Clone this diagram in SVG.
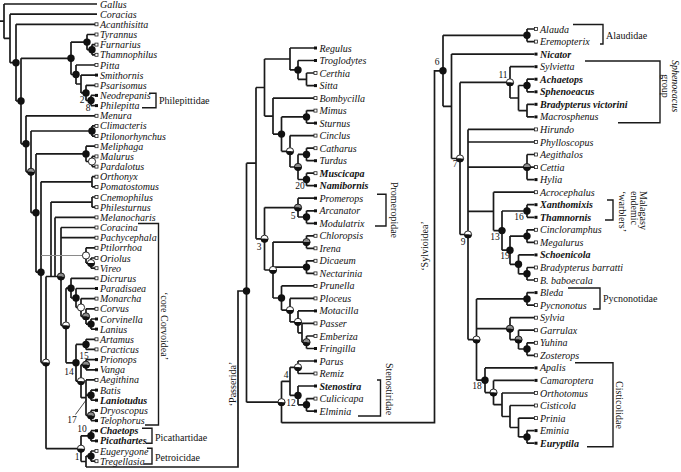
<svg xmlns="http://www.w3.org/2000/svg" width="681" height="472" viewBox="0 0 681 472">
<style>
.t{font-family:"Liberation Serif",serif;font-size:10px;font-style:italic;fill:#111}
.b{font-weight:bold}
.f{font-family:"Liberation Serif",serif;font-size:10px;fill:#111}
.n{font-family:"Liberation Serif",serif;font-size:9.5px;fill:#111}
.so{fill:#fff;stroke:#222;stroke-width:0.8}
.sf{fill:#111}
.e{fill:none;stroke:#1a1a1a;stroke-width:1.7}
.g{fill:none;stroke:#8a8a8a;stroke-width:1}
.k{fill:none;stroke:#1a1a1a;stroke-width:1.4}
</style>
<defs>
<g id="mB"><circle r="3.7" fill="#111"/></g>
<g id="mW"><circle r="3.6" fill="#fff" stroke="#111" stroke-width="0.9"/></g>
<g id="mH"><path d="M-3.7,0A3.7,3.7 0 0 1 3.7,0Z" fill="#fff"/><path d="M-3.7,0A3.7,3.7 0 0 0 3.7,0Z" fill="#111"/><circle r="3.6" fill="none" stroke="#111" stroke-width="0.9"/></g>
<g id="mG"><path d="M-3.7,0A3.7,3.7 0 0 1 3.7,0Z" fill="#8c8c8c"/><path d="M-3.7,0A3.7,3.7 0 0 0 3.7,0Z" fill="#111"/><circle r="3.6" fill="none" stroke="#111" stroke-width="0.9"/></g>
</defs>
<rect width="681" height="472" fill="#fff"/>
<g id="connectors">
<path class="e" d="M0,21.2H4 M4,4V38.4 M4,4H97 M4,38.4H10 M10,14.2V62.7 M10,14.2H97 M10,62.7H16 M16,24.3V101 M16,24.3H95 M16,101H21 M21,58.3V143.8 M21,58.3H71 M21,143.8H26 M71,42.1V74.5 M71,42.1H87 M71,74.5H76 M87,34.5V49.7 M87,34.5H95 M87,49.7H92 M92,44.6V54.8 M92,44.6H95 M92,54.8H95 M76,65V84 M76,65H95 M76,84H81 M81,75.1V92.9 M81,75.1H95 M81,92.9H86 M86,85.3V100.5 M86,85.3H95 M86,100.5H91 M91,95.4V105.6 M91,95.4H95 M91,105.6H95 M26,115.8V171.8 M26,115.8H95 M26,171.8H31 M31,131V212.7 M31,131H92 M31,212.7H36 M92,125.9V136.1 M92,125.9H95 M92,136.1H95 M36,153.9V272.2 M36,153.9H86 M36,272.2H41 M86,146.2V161.5 M86,146.2H95 M86,161.5H92 M92,156.4V166.6 M92,156.4H95 M92,166.6H95 M41,181.8V362.6 M41,181.8H92 M41,362.6H46 M92,176.7V186.9 M92,176.7H95 M92,186.9H95 M46,276.5V448.7 M46,276.5H61 M46,448.7H81 M51,202.1V276.5 M51,202.1H92 M92,197V207.2 M92,197H95 M92,207.2H95 M55,217.4V276.5 M55,217.4H95 M61,227.5V325.5 M61,227.5H95 M61,237.7H95 M61,325.5H66 M86,247.8V263.1 M86,247.8H95 M86,263.1H91 M91,258V268.2 M91,258H95 M91,268.2H95 M66,288.2V362.8 M66,288.2H71 M66,362.8H76 M71,278.3V298 M71,278.3H95 M71,298H76 M76,288.5V307.5 M76,288.5H95 M76,307.5H81 M81,298.6V316.4 M81,298.6H95 M81,316.4H86 M86,308.8V324.1 M86,308.8H95 M86,324.1H91 M91,319V329.1 M91,319H95 M91,329.1H95 M76,344.4V381.2 M76,344.4H86 M76,381.2H81 M86,339.3V349.4 M86,339.3H95 M86,349.4H95 M81,364.7V397.7 M81,364.7H86 M81,397.7H86 M86,359.6V369.8 M86,359.6H95 M86,369.8H95 M86,379.9V415.5 M86,379.9H95 M86,395.2H91 M86,415.5H91 M91,390.1V400.2 M91,390.1H95 M91,400.2H95 M91,410.4V420.6 M91,410.4H95 M91,420.6H95 M81,435.8V461.5 M81,435.8H91 M81,461.5H86 M91,430.7V440.9 M91,430.7H95 M91,440.9H95 M86,456.1V467 M86,456.1H91 M91,451V461.2 M91,451H95 M91,461.2H95 M86,467H238V291H246.5"/>
<path class="g" d="M41,255.5H86"/>
<path class="e" d="M246.5,163.2V402.2 M246.5,163.2H256 M246.5,402.2H281.5 M256,87.5V238.8 M256,87.5H264.5 M256,238.8H264.5 M264.5,59V116.1 M264.5,59H290 M264.5,116.1H273 M290,48V69.9 M290,48H314 M290,69.9H298 M298,60.5V79.3 M298,60.5H314 M298,79.3H306.5 M306.5,73V85.6 M306.5,73H314 M306.5,85.6H314 M273,98.1V134.1 M273,98.1H314 M273,134.1H281.5 M281.5,116.9V151.3 M281.5,116.9H306.5 M281.5,151.3H290 M306.5,110.6V123.1 M306.5,110.6H314 M306.5,123.1H314 M290,135.6V167 M290,135.6H314 M290,167H298 M298,154.4V179.5 M298,154.4H306.5 M298,179.5H306.5 M306.5,148.2V160.7 M306.5,148.2H314 M306.5,160.7H314 M306.5,173.2V185.7 M306.5,173.2H314 M306.5,185.7H314 M264.5,207.6V270 M264.5,207.6H298 M264.5,270H273 M298,198.2V217 M298,198.2H314 M298,217H306.5 M306.5,210.8V223.3 M306.5,210.8H314 M306.5,223.3H314 M273,242.1V298 M273,242.1H306.5 M273,267.1H306.5 M273,298H281.5 M306.5,235.8V248.3 M306.5,235.8H314 M306.5,248.3H314 M306.5,260.8V273.4 M306.5,260.8H314 M306.5,273.4H314 M281.5,285.9V310.1 M281.5,285.9H314 M281.5,310.1H290 M290,298.4V321.9 M290,298.4H314 M290,321.9H298 M298,310.9V332.8 M298,310.9H314 M298,332.8H302 M302,323.4V342.2 M302,323.4H314 M302,342.2H306.5 M306.5,336V348.5 M306.5,336H314 M306.5,348.5H314 M281.5,381.3V422.7 M281.5,381.3H290 M290,367.3V395.4 M290,367.3H298 M290,395.4H298 M298,361V373.5 M298,361H314 M298,373.5H314 M298,386V404.8 M298,386H314 M298,404.8H306.5 M306.5,398.6V411.1 M306.5,398.6H314 M306.5,411.1H314 M281.5,422.7H434.5V70.8H443"/>
<path class="e" d="M443,35.3V106.3 M443,35.3H527 M443,106.3H451.5 M527,29V41.6 M527,29H534.5 M527,41.6H534.5 M451.5,54.1V158.5 M451.5,54.1H534.5 M451.5,158.5H460 M460,82.4V234.5 M460,82.4H510 M460,234.5H468 M510,66.7V98 M510,66.7H534.5 M510,98H518.5 M518.5,85.5V110.6 M518.5,85.5H527 M518.5,110.6H527 M527,79.2V91.8 M527,79.2H534.5 M527,91.8H534.5 M527,104.3V116.9 M527,104.3H534.5 M527,116.9H534.5 M468,129.4V339.6 M468,129.4H534.5 M468,142H534.5 M468,167.1H527 M468,211.4H493.5 M468,339.6H476.5 M527,154.5V179.6 M527,154.5H534.5 M527,167.1H534.5 M527,179.6H534.5 M493.5,192.2V230.6 M493.5,192.2H534.5 M493.5,230.6H502 M502,211V250.2 M502,211H527 M502,250.2H510 M527,204.7V217.3 M527,204.7H534.5 M527,217.3H534.5 M510,236.1V264.3 M510,236.1H527 M510,264.3H518.5 M527,229.8V242.4 M527,229.8H534.5 M527,242.4H534.5 M518.5,254.9V273.8 M518.5,254.9H534.5 M518.5,273.8H527 M527,267.5V280 M527,267.5H534.5 M527,280H534.5 M476.5,298.9V380.2 M476.5,298.9H527 M476.5,328.7H510 M476.5,380.2H485 M527,292.6V305.1 M527,292.6H534.5 M527,305.1H534.5 M510,317.7V339.6 M510,317.7H534.5 M510,339.6H518.5 M518.5,330.2V349 M518.5,330.2H534.5 M518.5,349H527 M527,342.8V355.3 M527,342.8H534.5 M527,355.3H534.5 M485,367.9V392.6 M485,367.9H534.5 M485,392.6H493.5 M493.5,380.4V404.7 M493.5,380.4H534.5 M493.5,404.7H502 M502,393V416.5 M502,393H534.5 M502,416.5H510 M510,405.5V427.5 M510,405.5H534.5 M510,427.5H518.5 M518.5,418.1V436.9 M518.5,418.1H534.5 M518.5,436.9H527 M527,430.6V443.2 M527,430.6H534.5 M527,443.2H534.5"/>
<path class="k" d="M149,93.3H156V107.7H142 M138,223.5H158.5V425H145 M142,428.3H152V443.3H146 M147,448.3H152V464H144 M377,194.3H386V226H375 M377,380H380.5V416H358 M573,24.5H603V44H600 M585,61H660V122.7H618 M607,200H613V220H605 M568,288H600V309H593 M575,362.7H613V446.7H587"/>
<path d="M75.5,414.5L86.5,399.5" fill="none" stroke="#1a1a1a" stroke-width="0.8"/>
</g>
<g id="markers">
<use href="#mB" x="16" y="62.7"/><use href="#mB" x="21" y="101"/><use href="#mB" x="71" y="58.3"/><use href="#mB" x="87" y="42.1"/><use href="#mB" x="92" y="49.7"/><use href="#mB" x="76" y="74.5"/><use href="#mB" x="86" y="92.9"/><use href="#mB" x="91" y="100.5"/><use href="#mB" x="26" y="143.8"/><use href="#mB" x="92" y="131"/><use href="#mB" x="86" y="153.9"/><use href="#mB" x="36" y="212.7"/><use href="#mB" x="41" y="272.2"/><use href="#mB" x="71" y="288.2"/><use href="#mB" x="76" y="298"/><use href="#mB" x="91" y="324.1"/><use href="#mB" x="76" y="362.8"/><use href="#mB" x="86" y="344.4"/><use href="#mB" x="91" y="395.2"/><use href="#mB" x="91" y="435.8"/><use href="#mB" x="91" y="456.1"/>
<use href="#mG" x="31" y="171.8"/><use href="#mG" x="61" y="276.5"/><use href="#mG" x="86" y="316.4"/><use href="#mG" x="86" y="364.7"/><use href="#mG" x="91" y="415.5"/>
<use href="#mW" x="92" y="161.5"/><use href="#mW" x="86" y="255.5"/><use href="#mW" x="81" y="307.5"/>
<use href="#mH" x="46" y="362.6"/><use href="#mH" x="91" y="263.1"/><use href="#mH" x="66" y="325.5"/><use href="#mH" x="81" y="381.2"/><use href="#mH" x="81" y="448.7"/>
<use href="#mB" x="246.5" y="291"/><use href="#mB" x="298" y="69.9"/><use href="#mB" x="306.5" y="116.9"/><use href="#mB" x="281.5" y="134.1"/><use href="#mB" x="306.5" y="154.4"/><use href="#mB" x="306.5" y="179.5"/><use href="#mB" x="306.5" y="217"/><use href="#mB" x="306.5" y="267.1"/><use href="#mB" x="281.5" y="298"/><use href="#mB" x="298" y="395.4"/><use href="#mB" x="306.5" y="404.8"/>
<use href="#mG" x="298" y="167"/><use href="#mG" x="298" y="207.6"/><use href="#mG" x="306.5" y="242.1"/><use href="#mG" x="306.5" y="342.2"/>
<use href="#mH" x="290" y="151.3"/><use href="#mH" x="264.5" y="238.8"/><use href="#mH" x="273" y="270"/><use href="#mH" x="290" y="310.1"/><use href="#mH" x="298" y="321.9"/><use href="#mH" x="281.5" y="402.2"/><use href="#mH" x="298" y="367.3"/>
<use href="#mB" x="443" y="70.8"/><use href="#mB" x="527" y="35.3"/><use href="#mB" x="527" y="85.5"/><use href="#mB" x="502" y="230.6"/><use href="#mB" x="527" y="211"/><use href="#mB" x="510" y="250.2"/><use href="#mB" x="527" y="236.1"/><use href="#mB" x="518.5" y="264.3"/><use href="#mB" x="527" y="273.8"/><use href="#mB" x="527" y="298.9"/><use href="#mB" x="527" y="349"/><use href="#mB" x="485" y="380.2"/><use href="#mB" x="527" y="436.9"/>
<use href="#mG" x="527" y="167.1"/><use href="#mG" x="510" y="328.7"/><use href="#mG" x="518.5" y="339.6"/>
<use href="#mH" x="460" y="158.5"/><use href="#mH" x="510" y="82.4"/><use href="#mH" x="468" y="234.5"/><use href="#mH" x="476.5" y="339.6"/><use href="#mH" x="493.5" y="392.6"/>
</g>
<g id="node-labels" class="n">
<text x="82" y="102.5" text-anchor="middle">2</text><text x="88" y="110.5" text-anchor="middle">8</text><text x="69" y="374.5" text-anchor="middle">14</text><text x="84" y="358.5" text-anchor="middle">15</text><text x="72" y="422.5" text-anchor="middle">17</text><text x="82" y="431.5" text-anchor="middle">10</text><text x="77" y="459.5" text-anchor="middle">1</text>
<text x="259" y="249.5" text-anchor="middle">3</text><text x="293" y="218.5" text-anchor="middle">5</text><text x="300" y="189" text-anchor="middle">20</text><text x="286" y="378" text-anchor="middle">4</text><text x="291" y="406" text-anchor="middle">12</text>
<text x="437" y="65" text-anchor="middle">6</text><text x="503" y="77.5" text-anchor="middle">11</text><text x="455" y="167" text-anchor="middle">7</text><text x="463" y="244.5" text-anchor="middle">9</text><text x="519" y="220" text-anchor="middle">16</text><text x="495" y="239.5" text-anchor="middle">13</text><text x="505" y="258.5" text-anchor="middle">19</text><text x="477" y="389" text-anchor="middle">18</text>
</g>
<g id="group-labels" class="f">
<text x="159" y="104">Philepittidae</text>
<text x="155" y="441">Picathartidae</text>
<text x="155" y="461">Petroicidae</text>
<text transform="translate(161,326) rotate(90)" text-anchor="middle">‘core Corvoidea’</text>
<text transform="translate(236,384) rotate(-90)" text-anchor="middle">‘Passerida’</text>
<text transform="translate(391,210) rotate(90)" text-anchor="middle">Promeropidae</text>
<text transform="translate(386,389) rotate(90)" text-anchor="middle">Stenostiridae</text>
<text transform="translate(428,246) rotate(-90)" text-anchor="middle">‘Sylvioidea’</text>
<text x="606" y="38.5">Alaudidae</text>
<text transform="translate(672,86) rotate(90)" text-anchor="middle" font-style="italic">Sphenoeacus</text>
<text transform="translate(662,86) rotate(90)" text-anchor="middle">group</text>
<text transform="translate(640,191) rotate(90)">Malagasy</text>
<text transform="translate(631,191) rotate(90)">endemic</text>
<text transform="translate(619,191) rotate(90)">‘warblers’</text>
<text x="603" y="301.5">Pycnonotidae</text>
<text transform="translate(616,405) rotate(90)" text-anchor="middle">Cisticolidae</text>
</g>
<g id="taxa-left" class="t">
<g id="Gallus"><text x="100" y="7.6">Gallus</text></g>
<g id="Coracias"><text x="100" y="17.7">Coracias</text></g>
<g id="Acanthisitta"><rect class="so" x="95" y="22.8" width="3" height="3"/><text x="100" y="27.8">Acanthisitta</text></g>
<g id="Tyrannus"><rect class="so" x="95" y="33" width="3" height="3"/><text x="100" y="38">Tyrannus</text></g>
<g id="Furnarius"><rect class="so" x="95" y="43.1" width="3" height="3"/><text x="100" y="48.1">Furnarius</text></g>
<g id="Thamnophilus"><rect class="so" x="95" y="53.3" width="3" height="3"/><text x="100" y="58.3">Thamnophilus</text></g>
<g id="Pitta"><rect class="so" x="95" y="63.5" width="3" height="3"/><text x="100" y="68.5">Pitta</text></g>
<g id="Smithornis"><rect class="sf" x="95" y="73.6" width="3" height="3"/><text x="100" y="78.6">Smithornis</text></g>
<g id="Psarisomus"><rect class="so" x="95" y="83.8" width="3" height="3"/><text x="100" y="88.8">Psarisomus</text></g>
<g id="Neodrepanis"><rect class="sf" x="95" y="93.9" width="3" height="3"/><text x="100" y="98.9">Neodrepanis</text></g>
<g id="Philepitta"><rect class="sf" x="95" y="104.1" width="3" height="3"/><text x="100" y="109.1">Philepitta</text></g>
<g id="Menura"><rect class="so" x="95" y="114.3" width="3" height="3"/><text x="100" y="119.3">Menura</text></g>
<g id="Climacteris"><rect class="so" x="95" y="124.4" width="3" height="3"/><text x="100" y="129.4">Climacteris</text></g>
<g id="Ptilonorhynchus"><rect class="so" x="95" y="134.6" width="3" height="3"/><text x="100" y="139.6">Ptilonorhynchus</text></g>
<g id="Meliphaga"><rect class="so" x="95" y="144.7" width="3" height="3"/><text x="100" y="149.7">Meliphaga</text></g>
<g id="Malurus"><rect class="so" x="95" y="154.9" width="3" height="3"/><text x="100" y="159.9">Malurus</text></g>
<g id="Pardalotus"><rect class="so" x="95" y="165.1" width="3" height="3"/><text x="100" y="170.1">Pardalotus</text></g>
<g id="Orthonyx"><rect class="so" x="95" y="175.2" width="3" height="3"/><text x="100" y="180.2">Orthonyx</text></g>
<g id="Pomatostomus"><rect class="so" x="95" y="185.4" width="3" height="3"/><text x="100" y="190.4">Pomatostomus</text></g>
<g id="Cnemophilus"><rect class="so" x="95" y="195.5" width="3" height="3"/><text x="100" y="200.5">Cnemophilus</text></g>
<g id="Philesturnus"><rect class="so" x="95" y="205.7" width="3" height="3"/><text x="100" y="210.7">Philesturnus</text></g>
<g id="Melanocharis"><rect class="so" x="95" y="215.9" width="3" height="3"/><text x="100" y="220.9">Melanocharis</text></g>
<g id="Coracina"><rect class="so" x="95" y="226" width="3" height="3"/><text x="100" y="231">Coracina</text></g>
<g id="Pachycephala"><rect class="so" x="95" y="236.2" width="3" height="3"/><text x="100" y="241.2">Pachycephala</text></g>
<g id="Ptilorrhoa"><rect class="so" x="95" y="246.3" width="3" height="3"/><text x="100" y="251.3">Ptilorrhoa</text></g>
<g id="Oriolus"><rect class="so" x="95" y="256.5" width="3" height="3"/><text x="100" y="261.5">Oriolus</text></g>
<g id="Vireo"><rect class="so" x="95" y="266.7" width="3" height="3"/><text x="100" y="271.7">Vireo</text></g>
<g id="Dicrurus"><rect class="so" x="95" y="276.8" width="3" height="3"/><text x="100" y="281.8">Dicrurus</text></g>
<g id="Paradisaea"><rect class="sf" x="95" y="287" width="3" height="3"/><text x="100" y="292">Paradisaea</text></g>
<g id="Monarcha"><rect class="so" x="95" y="297.1" width="3" height="3"/><text x="100" y="302.1">Monarcha</text></g>
<g id="Corvus"><rect class="so" x="95" y="307.3" width="3" height="3"/><text x="100" y="312.3">Corvus</text></g>
<g id="Corvinella"><rect class="sf" x="95" y="317.5" width="3" height="3"/><text x="100" y="322.5">Corvinella</text></g>
<g id="Lanius"><rect class="sf" x="95" y="327.6" width="3" height="3"/><text x="100" y="332.6">Lanius</text></g>
<g id="Artamus"><rect class="so" x="95" y="337.8" width="3" height="3"/><text x="100" y="342.8">Artamus</text></g>
<g id="Cracticus"><rect class="so" x="95" y="347.9" width="3" height="3"/><text x="100" y="352.9">Cracticus</text></g>
<g id="Prionops"><rect class="sf" x="95" y="358.1" width="3" height="3"/><text x="100" y="363.1">Prionops</text></g>
<g id="Vanga"><rect class="sf" x="95" y="368.3" width="3" height="3"/><text x="100" y="373.3">Vanga</text></g>
<g id="Aegithina"><rect class="so" x="95" y="378.4" width="3" height="3"/><text x="100" y="383.4">Aegithina</text></g>
<g id="Batis"><rect class="sf" x="95" y="388.6" width="3" height="3"/><text x="100" y="393.6">Batis</text></g>
<g id="Laniotudus"><rect class="sf" x="95" y="398.7" width="3" height="3"/><text class="b" x="100" y="403.7">Laniotudus</text></g>
<g id="Dryoscopus"><rect class="sf" x="95" y="408.9" width="3" height="3"/><text x="100" y="413.9">Dryoscopus</text></g>
<g id="Telophorus"><rect class="sf" x="95" y="419.1" width="3" height="3"/><text x="100" y="424.1">Telophorus</text></g>
<g id="Chaetops"><rect class="sf" x="95" y="429.2" width="3" height="3"/><text class="b" x="100" y="434.2">Chaetops</text></g>
<g id="Picathartes"><rect class="sf" x="95" y="439.4" width="3" height="3"/><text class="b" x="100" y="444.4">Picathartes</text></g>
<g id="Eugerygone"><rect class="so" x="95" y="449.5" width="3" height="3"/><text x="100" y="454.5">Eugerygone</text></g>
<g id="Tregellasia"><rect class="so" x="95" y="459.7" width="3" height="3"/><text x="100" y="464.7">Tregellasia</text></g>
</g>
<g id="taxa-middle" class="t">
<g id="Regulus"><rect class="sf" x="314" y="46.5" width="3" height="3"/><text x="319.5" y="51.5">Regulus</text></g>
<g id="Troglodytes"><rect class="sf" x="314" y="59" width="3" height="3"/><text x="319.5" y="64">Troglodytes</text></g>
<g id="Certhia"><rect class="so" x="314" y="71.5" width="3" height="3"/><text x="319.5" y="76.5">Certhia</text></g>
<g id="Sitta"><rect class="sf" x="314" y="84.1" width="3" height="3"/><text x="319.5" y="89.1">Sitta</text></g>
<g id="Bombycilla"><rect class="so" x="314" y="96.6" width="3" height="3"/><text x="319.5" y="101.6">Bombycilla</text></g>
<g id="Mimus"><rect class="so" x="314" y="109.1" width="3" height="3"/><text x="319.5" y="114.1">Mimus</text></g>
<g id="Sturnus"><rect class="sf" x="314" y="121.6" width="3" height="3"/><text x="319.5" y="126.6">Sturnus</text></g>
<g id="Cinclus"><rect class="so" x="314" y="134.1" width="3" height="3"/><text x="319.5" y="139.1">Cinclus</text></g>
<g id="Catharus"><rect class="so" x="314" y="146.7" width="3" height="3"/><text x="319.5" y="151.7">Catharus</text></g>
<g id="Turdus"><rect class="sf" x="314" y="159.2" width="3" height="3"/><text x="319.5" y="164.2">Turdus</text></g>
<g id="Muscicapa"><rect class="so" x="314" y="171.7" width="3" height="3"/><text class="b" x="319.5" y="176.7">Muscicapa</text></g>
<g id="Namibornis"><rect class="sf" x="314" y="184.2" width="3" height="3"/><text class="b" x="319.5" y="189.2">Namibornis</text></g>
<g id="Promerops"><rect class="sf" x="314" y="196.7" width="3" height="3"/><text x="319.5" y="201.7">Promerops</text></g>
<g id="Arcanator"><rect class="sf" x="314" y="209.3" width="3" height="3"/><text x="319.5" y="214.3">Arcanator</text></g>
<g id="Modulatrix"><rect class="sf" x="314" y="221.8" width="3" height="3"/><text x="319.5" y="226.8">Modulatrix</text></g>
<g id="Chloropsis"><rect class="so" x="314" y="234.3" width="3" height="3"/><text x="319.5" y="239.3">Chloropsis</text></g>
<g id="Irena"><rect class="so" x="314" y="246.8" width="3" height="3"/><text x="319.5" y="251.8">Irena</text></g>
<g id="Dicaeum"><rect class="so" x="314" y="259.3" width="3" height="3"/><text x="319.5" y="264.3">Dicaeum</text></g>
<g id="Nectarinia"><rect class="so" x="314" y="271.9" width="3" height="3"/><text x="319.5" y="276.9">Nectarinia</text></g>
<g id="Prunella"><rect class="so" x="314" y="284.4" width="3" height="3"/><text x="319.5" y="289.4">Prunella</text></g>
<g id="Ploceus"><rect class="so" x="314" y="296.9" width="3" height="3"/><text x="319.5" y="301.9">Ploceus</text></g>
<g id="Motacilla"><rect class="sf" x="314" y="309.4" width="3" height="3"/><text x="319.5" y="314.4">Motacilla</text></g>
<g id="Passer"><rect class="so" x="314" y="321.9" width="3" height="3"/><text x="319.5" y="326.9">Passer</text></g>
<g id="Emberiza"><rect class="so" x="314" y="334.5" width="3" height="3"/><text x="319.5" y="339.5">Emberiza</text></g>
<g id="Fringilla"><rect class="sf" x="314" y="347" width="3" height="3"/><text x="319.5" y="352">Fringilla</text></g>
<g id="Parus"><rect class="sf" x="314" y="359.5" width="3" height="3"/><text x="319.5" y="364.5">Parus</text></g>
<g id="Remiz"><rect class="so" x="314" y="372" width="3" height="3"/><text x="319.5" y="377">Remiz</text></g>
<g id="Stenostira"><rect class="sf" x="314" y="384.5" width="3" height="3"/><text class="b" x="319.5" y="389.5">Stenostira</text></g>
<g id="Culicicapa"><rect class="so" x="314" y="397.1" width="3" height="3"/><text x="319.5" y="402.1">Culicicapa</text></g>
<g id="Elminia"><rect class="sf" x="314" y="409.6" width="3" height="3"/><text x="319.5" y="414.6">Elminia</text></g>
</g>
<g id="taxa-right" class="t">
<g id="Alauda"><rect class="so" x="534.5" y="27.5" width="3" height="3"/><text x="540" y="32.5">Alauda</text></g>
<g id="Eremopterix"><rect class="so" x="534.5" y="40.1" width="3" height="3"/><text x="540" y="45.1">Eremopterix</text></g>
<g id="Nicator"><rect class="sf" x="534.5" y="52.6" width="3" height="3"/><text class="b" x="540" y="57.6">Nicator</text></g>
<g id="Sylvietta"><rect class="sf" x="534.5" y="65.2" width="3" height="3"/><text x="540" y="70.2">Sylvietta</text></g>
<g id="Achaetops"><rect class="sf" x="534.5" y="77.7" width="3" height="3"/><text class="b" x="540" y="82.7">Achaetops</text></g>
<g id="Sphenoeacus"><rect class="sf" x="534.5" y="90.3" width="3" height="3"/><text class="b" x="540" y="95.3">Sphenoeacus</text></g>
<g id="Bradypterus-victorini"><rect class="sf" x="534.5" y="102.8" width="3" height="3"/><text class="b" x="540" y="107.8">Bradypterus victorini</text></g>
<g id="Macrosphenus"><rect class="sf" x="534.5" y="115.4" width="3" height="3"/><text x="540" y="120.4">Macrosphenus</text></g>
<g id="Hirundo"><rect class="so" x="534.5" y="127.9" width="3" height="3"/><text x="540" y="132.9">Hirundo</text></g>
<g id="Phylloscopus"><rect class="so" x="534.5" y="140.5" width="3" height="3"/><text x="540" y="145.5">Phylloscopus</text></g>
<g id="Aegithalos"><rect class="so" x="534.5" y="153" width="3" height="3"/><text x="540" y="158">Aegithalos</text></g>
<g id="Cettia"><rect class="so" x="534.5" y="165.6" width="3" height="3"/><text x="540" y="170.6">Cettia</text></g>
<g id="Hylia"><rect class="sf" x="534.5" y="178.1" width="3" height="3"/><text x="540" y="183.1">Hylia</text></g>
<g id="Acrocephalus"><rect class="so" x="534.5" y="190.7" width="3" height="3"/><text x="540" y="195.7">Acrocephalus</text></g>
<g id="Xanthomixis"><rect class="sf" x="534.5" y="203.2" width="3" height="3"/><text class="b" x="540" y="208.2">Xanthomixis</text></g>
<g id="Thamnornis"><rect class="sf" x="534.5" y="215.8" width="3" height="3"/><text class="b" x="540" y="220.8">Thamnornis</text></g>
<g id="Cincloramphus"><rect class="so" x="534.5" y="228.3" width="3" height="3"/><text x="540" y="233.3">Cincloramphus</text></g>
<g id="Megalurus"><rect class="so" x="534.5" y="240.9" width="3" height="3"/><text x="540" y="245.9">Megalurus</text></g>
<g id="Schoenicola"><rect class="sf" x="534.5" y="253.4" width="3" height="3"/><text class="b" x="540" y="258.4">Schoenicola</text></g>
<g id="Bradypterus-barratti"><rect class="so" x="534.5" y="266" width="3" height="3"/><text x="540" y="271">Bradypterus barratti</text></g>
<g id="B-baboecala"><rect class="so" x="534.5" y="278.5" width="3" height="3"/><text x="540" y="283.5">B. baboecala</text></g>
<g id="Bleda"><rect class="sf" x="534.5" y="291.1" width="3" height="3"/><text x="540" y="296.1">Bleda</text></g>
<g id="Pycnonotus"><rect class="so" x="534.5" y="303.6" width="3" height="3"/><text x="540" y="308.6">Pycnonotus</text></g>
<g id="Sylvia"><rect class="so" x="534.5" y="316.2" width="3" height="3"/><text x="540" y="321.2">Sylvia</text></g>
<g id="Garrulax"><rect class="so" x="534.5" y="328.7" width="3" height="3"/><text x="540" y="333.7">Garrulax</text></g>
<g id="Yuhina"><rect class="so" x="534.5" y="341.3" width="3" height="3"/><text x="540" y="346.3">Yuhina</text></g>
<g id="Zosterops"><rect class="so" x="534.5" y="353.8" width="3" height="3"/><text x="540" y="358.8">Zosterops</text></g>
<g id="Apalis"><rect class="sf" x="534.5" y="366.4" width="3" height="3"/><text x="540" y="371.4">Apalis</text></g>
<g id="Camaroptera"><rect class="sf" x="534.5" y="378.9" width="3" height="3"/><text x="540" y="383.9">Camaroptera</text></g>
<g id="Orthotomus"><rect class="so" x="534.5" y="391.5" width="3" height="3"/><text x="540" y="396.5">Orthotomus</text></g>
<g id="Cisticola"><rect class="so" x="534.5" y="404" width="3" height="3"/><text x="540" y="409">Cisticola</text></g>
<g id="Prinia"><rect class="so" x="534.5" y="416.6" width="3" height="3"/><text x="540" y="421.6">Prinia</text></g>
<g id="Eminia"><rect class="sf" x="534.5" y="429.1" width="3" height="3"/><text x="540" y="434.1">Eminia</text></g>
<g id="Euryptila"><rect class="sf" x="534.5" y="441.7" width="3" height="3"/><text class="b" x="540" y="446.7">Euryptila</text></g>
</g>
</svg>
